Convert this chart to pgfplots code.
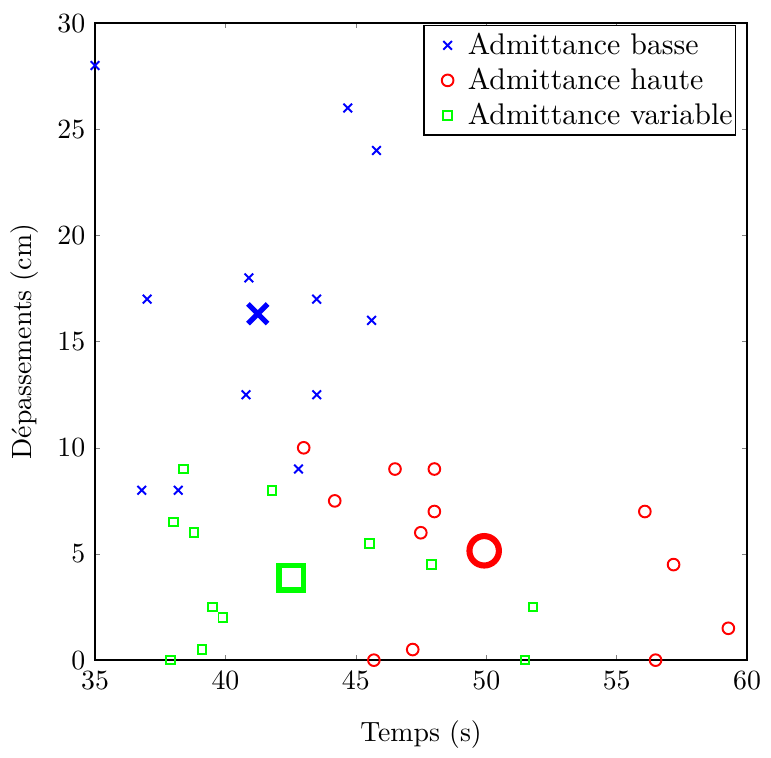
\documentclass[border=0pt]{standalone}
\usepackage{pgfplots}
\pgfplotsset{compat=1.18}
\begin{document}
\begin{tikzpicture}
\begin{axis}[
  scale only axis,
  width=234.7pt, height=229.3pt,
  at={(0,0)}, anchor=south west,
  xmin=35, xmax=60, ymin=0, ymax=30,
  xtick={35,40,...,60}, ytick={0,5,...,30},
  tick align=inside, tick pos=both,
  major tick length=1.8pt,
  xlabel={Temps (s)}, ylabel={D\'epassements (cm)},
  xticklabel style={yshift=-0.5pt},
  xlabel style={yshift=-4.3pt},
  clip=false,
  axis line style={line width=0.5pt},
  legend image code/.code={\path[draw=none,fill=none] (-0.3cm,0cm) -- (0.22cm,0cm); \draw[#1] plot coordinates {(0cm,0cm)};},
  legend style={at={(0.983,0.997)}, anchor=north east, draw=black, line width=0.5pt,
    font=\fontsize{10.75}{12.5}\selectfont, row sep=0.4pt, inner xsep=0pt, inner ysep=1pt,
    nodes={inner xsep=1pt, inner ysep=1.5pt}},
  legend cell align=left,
]
\addplot[only marks, mark=x, blue, mark size=2.2pt, line width=0.7pt] coordinates {
(35,28) (44.69,26) (45.79,24) (40.9,18) (37,17) (43.5,17) (45.6,16)
(40.79,12.5) (43.5,12.5) (42.8,9) (36.79,8) (38.19,8)};
\addlegendentry{Admittance basse}
\addplot[only marks, mark=o, red, mark size=2.1pt, line width=0.7pt] coordinates {
(43,10) (44.19,7.5) (46.5,9) (48.01,9) (48.01,7) (47.49,6) (45.69,0) (47.18,0.5)
(56.08,7) (57.18,4.5) (56.49,0) (59.28,1.5)};
\addlegendentry{Admittance haute}
\addplot[only marks, mark=square, green, mark size=1.55pt, line width=0.7pt] coordinates {
(38.4,9) (41.79,8) (38,6.5) (38.8,6) (45.52,5.5) (47.9,4.5) (39.5,2.5) (39.9,2)
(39.1,0.5) (37.9,0) (51.49,0) (51.79,2.5)};
\addlegendentry{Admittance variable}
\addplot[forget plot, only marks, mark=x, blue, mark size=5pt, line width=1.9pt] coordinates {(41.24,16.31)};
\addplot[forget plot, only marks, mark=o, red, mark size=5.3pt, line width=2.2pt] coordinates {(49.92,5.15)};
\addplot[forget plot, only marks, mark=square, green, mark size=4.4pt, line width=2pt] coordinates {(42.52,3.88)};
\end{axis}
\path (-34.2pt,-32.4pt) (243.3pt,237.6pt);
\end{tikzpicture}
\end{document}
